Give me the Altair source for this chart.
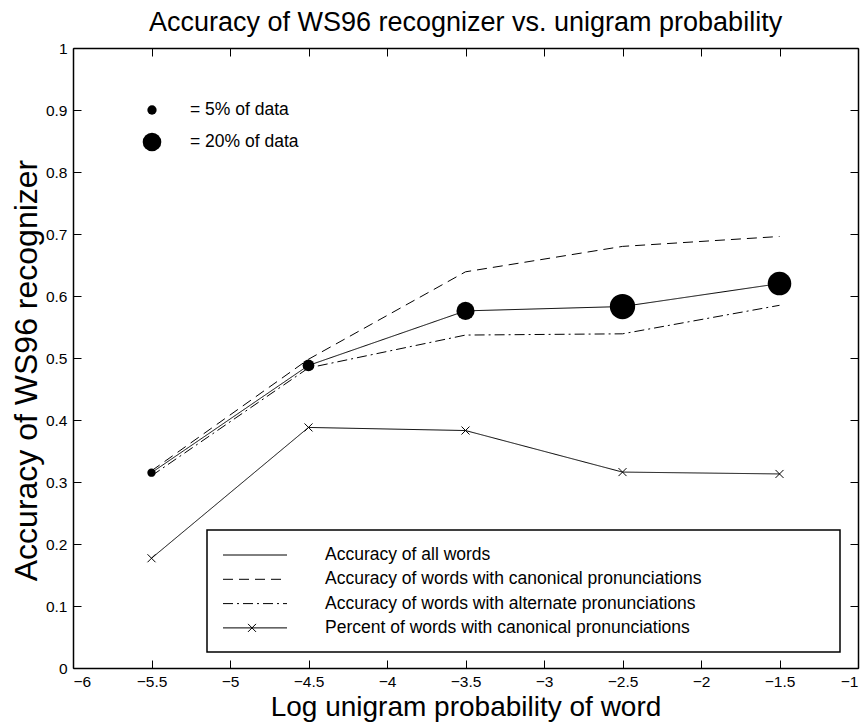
import altair as alt
import pandas as pd

# ---- data ----
x_vals = [-5.5, -4.5, -3.5, -2.5, -1.5]
acc_all = [0.315, 0.488, 0.576, 0.583, 0.620]
acc_canonical = [0.318, 0.498, 0.639, 0.680, 0.696]
acc_alternate = [0.310, 0.484, 0.537, 0.539, 0.585]
pct_canonical = [0.177, 0.388, 0.383, 0.316, 0.313]
data_share = [4, 8, 19, 37, 32]          # percent of data at each point (dot area)

series_names = [
    "Accuracy of all words",
    "Accuracy of words with canonical pronunciations",
    "Accuracy of words with alternate pronunciations",
    "Percent of words with canonical pronunciations",
]
size_key = [5, 20]
size_key_labels = ["= 5% of data", "= 20% of data"]
x_ticks = [-6, -5.5, -5, -4.5, -4, -3.5, -3, -2.5, -2, -1.5, -1]
y_ticks = [0, 0.1, 0.2, 0.3, 0.4, 0.5, 0.6, 0.7, 0.8, 0.9, 1]

title_text = "Accuracy of WS96 recognizer vs. unigram probability"
x_title = "Log unigram probability of word"
y_title = "Accuracy of WS96 recognizer"

# ---- tables ----
series_values = [acc_all, acc_canonical, acc_alternate, pct_canonical]
lines_df = pd.DataFrame(
    [
        {"x": xv, "y": yv, "series": name, "order": i}
        for name, vals in zip(series_names, series_values)
        for i, (xv, yv) in enumerate(zip(x_vals, vals))
    ]
)
dots_df = pd.DataFrame({"x": x_vals, "y": acc_all, "share": data_share})
marks_df = pd.DataFrame({"x": x_vals, "y": pct_canonical})

# ---- styling ----
FONT = "Liberation Sans"
W, H = 785, 620
dashes = [[1, 0], [10, 6], [10, 4, 2, 4], [1, 0]]
xmark = "M-1,-1L1,1M-1,1L1,-1"

xs = alt.Scale(domain=[-6, -1], nice=False, zero=False)
ys = alt.Scale(domain=[0, 1], nice=False, zero=False)
size_scale = alt.Scale(type="linear", domain=[0, 40], range=[0, 693], zero=True)
dash_scale = alt.Scale(domain=series_names, range=dashes)

common = dict(grid=False, tickColor="black", domainColor="black", labelColor="black",
              titleColor="black", labelFont=FONT, titleFont=FONT)

ax_x_main = alt.Axis(orient="bottom", values=x_ticks, format="~g", ticks=False, tickSize=0,
                     domain=True, domainWidth=1.5, labelFontSize=15.5, labelPadding=6,
                     title=x_title, titleFontSize=28, titleFontWeight="normal",
                     titlePadding=4, **common)
ax_x_inb = alt.Axis(orient="top", offset=-H, values=x_ticks, ticks=True, tickSize=8,
                    tickWidth=1, domain=False, labels=False, title="", **common)
ax_x_top = alt.Axis(orient="bottom", offset=-H, values=x_ticks, ticks=True, tickSize=8,
                    tickWidth=1, domain=True, domainWidth=1.5, labels=False, title="", **common)

ax_y_main = alt.Axis(orient="left", values=y_ticks, format="~g", ticks=False, tickSize=0,
                     domain=True, domainWidth=1.5, labelFontSize=15.5, labelPadding=6,
                     title=y_title, titleFontSize=32, titleFontWeight="normal",
                     titlePadding=2, titleY=322, **common)
ax_y_inl = alt.Axis(orient="right", offset=-W, values=y_ticks, ticks=True, tickSize=8,
                    tickWidth=1, domain=False, labels=False, title="", **common)
ax_y_right = alt.Axis(orient="left", offset=-W, values=y_ticks, ticks=True, tickSize=8,
                      tickWidth=1, domain=True, domainWidth=1.5, labels=False, title="", **common)

lines = alt.Chart(lines_df).mark_line(color="black", strokeWidth=1).encode(
    x=alt.X("x:Q", scale=xs, axis=ax_x_main),
    y=alt.Y("y:Q", scale=ys, axis=ax_y_main),
    strokeDash=alt.StrokeDash("series:N", scale=dash_scale, legend=None),
    detail="series:N",
    order="order:Q",
)

dots = alt.Chart(dots_df).mark_circle(color="black", opacity=1).encode(
    x=alt.X("x:Q", scale=xs, axis=ax_x_inb),
    y=alt.Y("y:Q", scale=ys, axis=ax_y_inl),
    size=alt.Size("share:Q", scale=size_scale, legend=None),
)

crosses = alt.Chart(marks_df).mark_point(shape=xmark, filled=False, color="black",
                                         size=64, strokeWidth=1, opacity=1).encode(
    x=alt.X("x:Q", scale=xs, axis=ax_x_top),
    y=alt.Y("y:Q", scale=ys, axis=ax_y_right),
)

layers = [lines, dots, crosses]

# ---- size key (top-left) ----
one = pd.DataFrame({"k": [0]})
for i, (share, lab) in enumerate(zip(size_key, size_key_labels)):
    yk = 62 + 32 * i
    layers.append(
        alt.Chart(pd.DataFrame({"share": [share]})).mark_circle(color="black", opacity=1).encode(
            x=alt.value(79), y=alt.value(yk),
            size=alt.Size("share:Q", scale=size_scale, legend=None),
        )
    )
    layers.append(
        alt.Chart(one).mark_text(align="left", baseline="middle", font=FONT, fontSize=17.5,
                                 color="black").encode(
            x=alt.value(117), y=alt.value(yk), text=alt.value(lab)
        )
    )

# ---- line legend (boxed, lower right) ----
layers.append(
    alt.Chart(one).mark_rect(fill="white", stroke="black", strokeWidth=1.5).encode(
        x=alt.value(134), x2=alt.value(767), y=alt.value(482), y2=alt.value(604)
    )
)
for i, name in enumerate(series_names):
    yl = 507 + 24.3 * i
    layers.append(
        alt.Chart(one).mark_rule(color="black", strokeWidth=1, strokeDash=dashes[i]).encode(
            x=alt.value(150), x2=alt.value(214), y=alt.value(yl)
        )
    )
    if i == 3:
        layers.append(
            alt.Chart(one).mark_point(shape=xmark, filled=False, color="black", size=64,
                                      strokeWidth=1, opacity=1).encode(
                x=alt.value(179), y=alt.value(yl)
            )
        )
    layers.append(
        alt.Chart(one).mark_text(align="left", baseline="middle", font=FONT, fontSize=17.5,
                                 color="black").encode(
            x=alt.value(252), y=alt.value(yl), text=alt.value(name)
        )
    )

chart = (
    alt.layer(*layers)
    .resolve_axis(x="independent", y="independent")
    .properties(
        width=W,
        height=H,
        title=alt.TitleParams(title_text, font=FONT, fontSize=27, fontWeight="normal",
                              anchor="middle", color="black", offset=4),
        autosize=alt.AutoSizeParams(type="none"),
        padding={"left": 73, "top": 48, "right": 7, "bottom": 60},
        background="white",
    )
    .configure_view(stroke=None)
)

chart.save("out.html", embed_options={"renderer": "svg", "actions": False})
